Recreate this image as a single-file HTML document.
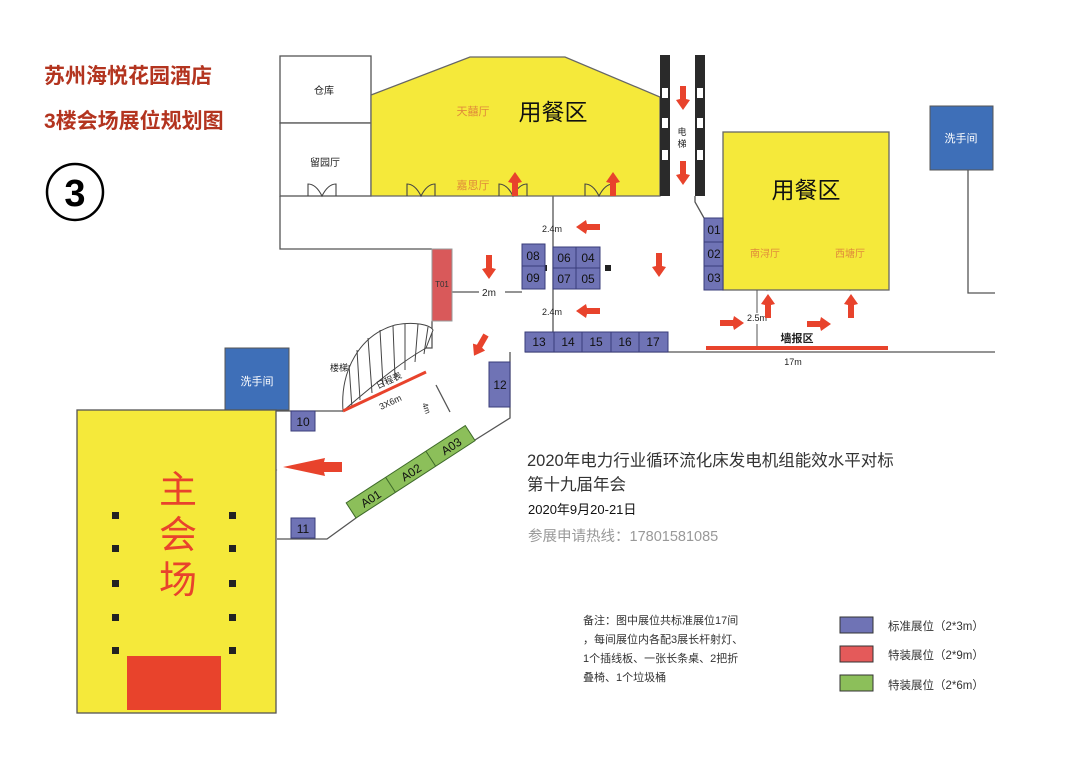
<!DOCTYPE html>
<html><head><meta charset="utf-8"><style>
html,body{margin:0;padding:0;background:#fff}
svg{display:block}
text{font-family:"Liberation Sans","Noto Sans CJK SC",sans-serif}
</style></head><body>
<svg width="1080" height="773" viewBox="0 0 1080 773" xmlns="http://www.w3.org/2000/svg">
<defs>
<g id="arr"><polygon points="0,-3 -13,-3 -14,-7 -24,0 -14,7 -13,3 0,3" fill="#e8432c"/></g>
</defs>
<text x="44" y="83" font-size="21" font-weight="bold" fill="#b3341f">苏州海悦花园酒店</text>
<text x="44" y="128" font-size="21" font-weight="bold" fill="#b3341f">3楼会场展位规划图</text>
<circle cx="75" cy="192" r="28" fill="#fff" stroke="#000" stroke-width="2.5"/>
<text x="75" y="206" font-size="38" font-weight="bold" text-anchor="middle" fill="#000">3</text>

<g stroke="#555" stroke-width="1.3" fill="none">
<rect x="280" y="56" width="91" height="67" fill="#fff"/>
<rect x="280" y="123" width="91" height="73" fill="#fff"/>
<polyline points="280,196 280,249 432,249"/>
<polyline points="432,321 432,348 408,348"/>
<line x1="553" y1="196" x2="553" y2="332"/>
<polyline points="695,196 695,202 704,218"/>
<line x1="718" y1="352" x2="995" y2="352"/>
<polyline points="525,352 718,352"/>
<polyline points="510,352 510,418 475,440"/>
<polyline points="356,518 327,539 277,539"/>
<line x1="276" y1="411" x2="343" y2="411"/>
<polyline points="968,170 968,293 995,293"/>
<line x1="452" y1="292" x2="522" y2="292"/>
<line x1="436" y1="385" x2="450" y2="412"/>
</g>
<polygon points="371,95 470,57 565,57 660,97 660,196 371,196" fill="#f5e93a" stroke="#666" stroke-width="1.3"/>
<text x="473" y="115" font-size="11" fill="#e08a3a" text-anchor="middle">天囍厅</text>
<text x="473" y="189" font-size="11" fill="#e08a3a" text-anchor="middle">嘉思厅</text>
<text x="553" y="120" font-size="23" fill="#111" text-anchor="middle">用餐区</text>
<text x="324" y="94" font-size="10" fill="#222" text-anchor="middle">仓库</text>
<text x="325" y="166" font-size="10" fill="#222" text-anchor="middle">留园厅</text>
<g stroke="#444" stroke-width="1.1" fill="none">
<path d="M308,196 v-12 q8,0 14,12 q6,-12 14,-12 v12"/>
<path d="M407,196 v-12 q8,0 14,12 q6,-12 14,-12 v12"/>
<path d="M499,196 v-12 q8,0 14,12 q6,-12 14,-12 v12"/>
<path d="M585,196 v-12 q8,0 14,12 q6,-12 14,-12 v12"/>
<path d="M755,290 v-10 q7,0 12,10 q5,-10 12,-10 v10"/>
<path d="M838,290 v-10 q7,0 12,10 q5,-10 12,-10 v10"/>
<path d="M245,410 v-10 q7,0 12,10 q5,-10 12,-10 v10"/>
<path d="M276,458 h-12 q0,7 12,12 q-12,5 -12,12 h12"/>
</g>
<rect x="660" y="55" width="10" height="141" fill="#2a2a2a"/>
<rect x="695" y="55" width="10" height="141" fill="#2a2a2a"/>
<g fill="#fff"><rect x="662" y="88" width="6" height="10"/><rect x="662" y="118" width="6" height="10"/><rect x="662" y="150" width="6" height="10"/>
<rect x="697" y="88" width="6" height="10"/><rect x="697" y="118" width="6" height="10"/><rect x="697" y="150" width="6" height="10"/></g>
<text x="682" y="135" font-size="9" text-anchor="middle" fill="#222">电</text>
<text x="682" y="147" font-size="9" text-anchor="middle" fill="#222">梯</text>
<rect x="723" y="132" width="166" height="158" fill="#f5e93a" stroke="#666" stroke-width="1.3"/>
<text x="806" y="198" font-size="23" fill="#111" text-anchor="middle">用餐区</text>
<text x="765" y="257" font-size="10" fill="#e08a3a" text-anchor="middle">南浔厅</text>
<text x="850" y="257" font-size="10" fill="#e08a3a" text-anchor="middle">西塘厅</text>
<rect x="930" y="106" width="63" height="64" fill="#3e6fb8" stroke="#555"/>
<text x="961" y="142" font-size="11" fill="#fff" text-anchor="middle">洗手间</text>
<rect x="225" y="348" width="64" height="62" fill="#3e6fb8" stroke="#555"/>
<text x="257" y="385" font-size="11" fill="#fff" text-anchor="middle">洗手间</text>
<rect x="77" y="410" width="199" height="303" fill="#f5e93a" stroke="#555" stroke-width="1.3"/>
<rect x="127" y="656" width="94" height="54" fill="#e8432c"/>
<text x="178" y="503" font-size="38" fill="#e8432c" text-anchor="middle">主</text>
<text x="178" y="548" font-size="38" fill="#e8432c" text-anchor="middle">会</text>
<text x="178" y="593" font-size="38" fill="#e8432c" text-anchor="middle">场</text>
<g fill="#222">
<rect x="112" y="512" width="7" height="7"/><rect x="229" y="512" width="7" height="7"/>
<rect x="112" y="545" width="7" height="7"/><rect x="229" y="545" width="7" height="7"/>
<rect x="112" y="580" width="7" height="7"/><rect x="229" y="580" width="7" height="7"/>
<rect x="112" y="614" width="7" height="7"/><rect x="229" y="614" width="7" height="7"/>
<rect x="112" y="647" width="7" height="7"/><rect x="229" y="647" width="7" height="7"/>
<rect x="541" y="265" width="6" height="6"/><rect x="605" y="265" width="6" height="6"/>
</g>
<g stroke="#444" stroke-width="1" fill="#fff">
<path d="M343,411 C340,370 360,335 395,325 C415,321 430,325 433,330 L426,348 C405,360 385,375 343,411 Z"/>
<path d="M349,365 L352,408 M357,350 L360,400 M368,338 L372,393 M380,330 L383,385 M393,326 L395,378 M405,324 L405,370 M418,324 L415,362 M428,327 L424,354" fill="none"/>
</g>
<line x1="343" y1="411" x2="426" y2="372" stroke="#e8432c" stroke-width="3"/>
<text x="378" y="389" font-size="9" fill="#222" transform="rotate(-25 378 389)">日程表</text>
<text x="381" y="410" font-size="9" fill="#222" transform="rotate(-25 381 410)">3X6m</text>
<text x="330" y="371" font-size="9" fill="#222">楼梯</text>
<text x="422" y="404" font-size="8" fill="#222" transform="rotate(70 422 404)">4m</text>
<rect x="432" y="249" width="20" height="72" fill="#d9595a" stroke="#999"/>
<text x="442" y="287" font-size="8" fill="#333" text-anchor="middle">T01</text>
<rect x="479" y="286" width="26" height="12" fill="#fff"/>
<text x="489" y="296" font-size="10" fill="#222" text-anchor="middle">2m</text>
<g fill="#6f73b5" stroke="#3a3d7a" stroke-width="1">
<rect x="522" y="244" width="23" height="22"/><rect x="522" y="266" width="23" height="23"/>
<rect x="553" y="247" width="23" height="21"/><rect x="576" y="247" width="24" height="21"/>
<rect x="553" y="268" width="23" height="21"/><rect x="576" y="268" width="24" height="21"/>
<rect x="525" y="332" width="29" height="20"/><rect x="554" y="332" width="28" height="20"/><rect x="582" y="332" width="29" height="20"/><rect x="611" y="332" width="28" height="20"/><rect x="639" y="332" width="29" height="20"/>
<rect x="704" y="218" width="19" height="24"/><rect x="704" y="242" width="19" height="24"/><rect x="704" y="266" width="19" height="24"/>
<rect x="489" y="362" width="21" height="45"/>
<rect x="291" y="411" width="24" height="20"/><rect x="291" y="518" width="24" height="20"/>
</g>
<g font-size="12" fill="#111" text-anchor="middle">
<text x="533" y="260">08</text><text x="533" y="282">09</text>
<text x="564" y="262">06</text><text x="588" y="262">04</text><text x="564" y="283">07</text><text x="588" y="283">05</text>
<text x="539" y="346">13</text><text x="568" y="346">14</text><text x="596" y="346">15</text><text x="625" y="346">16</text><text x="653" y="346">17</text>
<text x="714" y="234">01</text><text x="714" y="258">02</text><text x="714" y="282">03</text>
<text x="500" y="389">12</text><text x="303" y="426">10</text><text x="303" y="533">11</text>
</g>
<g transform="translate(356,518) rotate(-33)">
<rect x="0" y="-18" width="142" height="18" fill="#8cbf5a" stroke="#3e6a2a"/>
<line x1="47" y1="-18" x2="47" y2="0" stroke="#3e6a2a"/><line x1="95" y1="-18" x2="95" y2="0" stroke="#3e6a2a"/>
<text x="23" y="-4" font-size="12" text-anchor="middle" fill="#111">A01</text>
<text x="71" y="-4" font-size="12" text-anchor="middle" fill="#111">A02</text>
<text x="119" y="-4" font-size="12" text-anchor="middle" fill="#111">A03</text>
</g>
<text x="552" y="232" font-size="9" fill="#222" text-anchor="middle">2.4m</text>
<text x="552" y="315" font-size="9" fill="#222" text-anchor="middle">2.4m</text>
<text x="757" y="321" font-size="9" fill="#222" text-anchor="middle">2.5m</text>
<line x1="757" y1="290" x2="757" y2="313" stroke="#555"/>
<line x1="757" y1="324" x2="757" y2="348" stroke="#555"/>
<text x="797" y="342" font-size="11" font-weight="bold" fill="#222" text-anchor="middle">墙报区</text>
<rect x="706" y="346" width="182" height="4" fill="#e8432c"/>
<text x="793" y="365" font-size="9" fill="#222" text-anchor="middle">17m</text>
<use href="#arr" transform="translate(515,196) rotate(90)"/>
<use href="#arr" transform="translate(613,196) rotate(90)"/>
<use href="#arr" transform="translate(683,86) rotate(-90)"/>
<use href="#arr" transform="translate(683,161) rotate(-90)"/>
<use href="#arr" transform="translate(489,255) rotate(-90)"/>
<use href="#arr" transform="translate(659,253) rotate(-90)"/>
<use href="#arr" transform="translate(600,227)"/>
<use href="#arr" transform="translate(600,311)"/>
<use href="#arr" transform="translate(486,335) rotate(-60)"/>
<use href="#arr" transform="translate(768,318) rotate(90)"/>
<use href="#arr" transform="translate(851,318) rotate(90)"/>
<use href="#arr" transform="translate(720,323) rotate(180)"/>
<use href="#arr" transform="translate(807,324) rotate(180)"/>
<polygon points="283,467 325,458 324,462 342,462 342,472 324,472 325,476" fill="#e8432c"/>
<text x="527" y="466" font-size="16.5" fill="#333">2020年电力行业循环流化床发电机组能效水平对标</text>
<text x="527" y="490" font-size="16.5" fill="#333">第十九届年会</text>
<text x="528" y="514" font-size="13" fill="#111">2020年9月20-21日</text>
<text x="528" y="541" font-size="14.5" fill="#999">参展申请热线：17801581085</text>
<g font-size="11" fill="#333">
<text x="583" y="624">备注：图中展位共标准展位17间</text>
<text x="583" y="643">，每间展位内各配3展长杆射灯、</text>
<text x="583" y="662">1个插线板、一张长条桌、2把折</text>
<text x="583" y="681">叠椅、1个垃圾桶</text>
</g>
<rect x="840" y="617" width="33" height="16" fill="#6f73b5" stroke="#333"/>
<rect x="840" y="646" width="33" height="16" fill="#e45a5a" stroke="#333"/>
<rect x="840" y="675" width="33" height="16" fill="#8cbf5a" stroke="#333"/>
<g font-size="11.5" fill="#333">
<text x="888" y="630">标准展位（2*3m）</text>
<text x="888" y="659">特装展位（2*9m）</text>
<text x="888" y="689">特装展位（2*6m）</text>
</g>
</svg>
</body></html>
